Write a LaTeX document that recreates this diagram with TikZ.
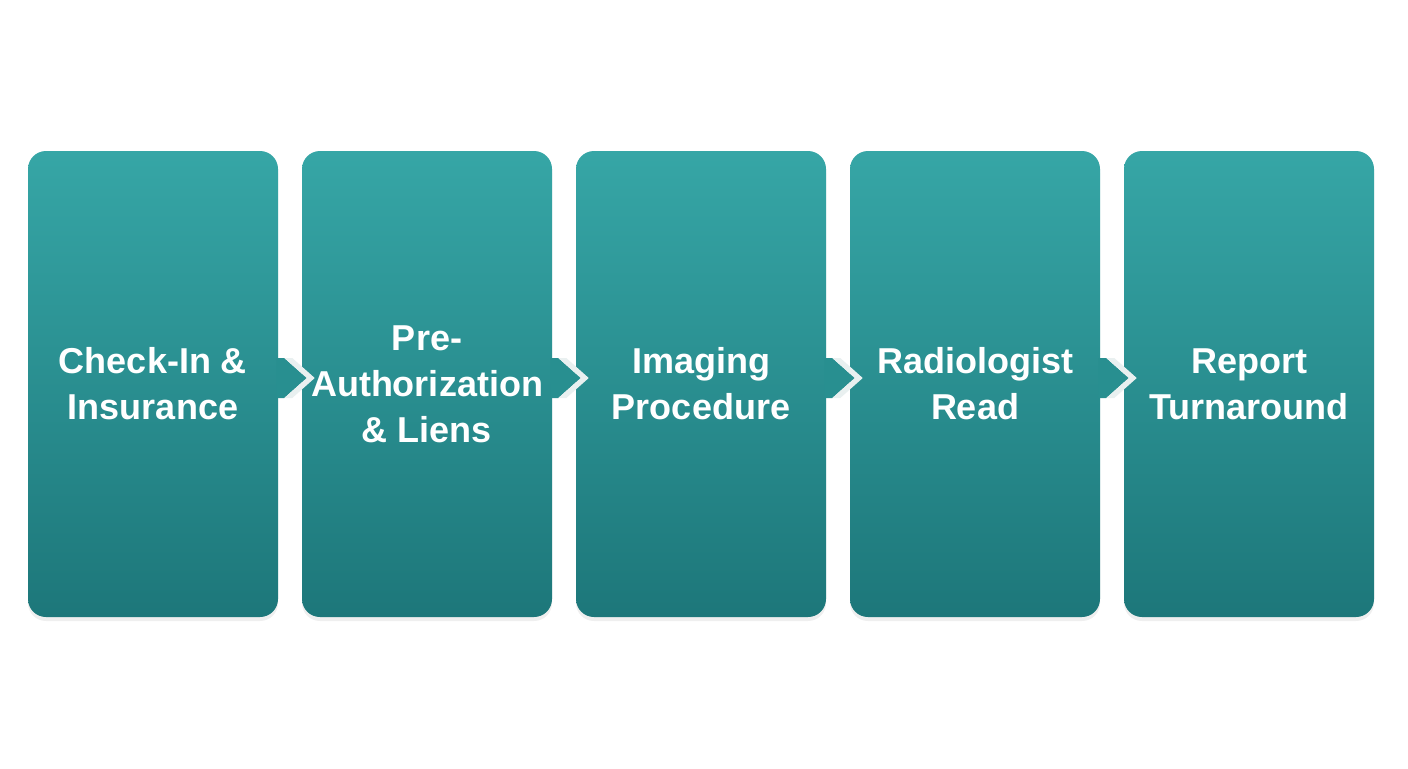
\documentclass[tikz,border=0pt]{standalone}
\usepackage{fontspec}
\setmainfont{Liberation Sans}
\usetikzlibrary{calc,shadows}
\definecolor{tealtop}{RGB}{54,166,166}
\definecolor{tealbot}{RGB}{29,119,122}
\definecolor{tealmid}{RGB}{40,143,144}
\definecolor{chev}{RGB}{233,240,240}
\begin{document}
\begin{tikzpicture}[x=0.75pt,y=-0.75pt,
  stepbox/.style={rectangle, rounded corners=13.5pt, minimum width=187.5pt,
    minimum height=349.5pt, inner sep=0pt, top color=tealtop, bottom color=tealbot,
    text=white, align=center, font=\bfseries\fontsize{27}{34.5}\selectfont,
    drop shadow={opacity=0.12, shadow xshift=0pt, shadow yshift=-3pt}},
  stemfill/.style={fill=tealmid, draw=none},
  chevfill/.style={fill=chev, draw=none}]
\useasboundingbox (0,0) rectangle (1408,768);
\fill[white] (0,0) rectangle (1408,768);
\node[stepbox] (b1) at (153,384) {Check-In \&\\Insurance};
\node[stepbox] (b2) at (427,384) {Pre-\\Authorization\\\& Liens};
\node[stepbox] (b3) at (701,384) {Imaging\\Procedure};
\node[stepbox] (b4) at (975,384) {Radiologist\\Read};
\node[stepbox] (b5) at (1249,384) {Report\\Turnaround};
\foreach \a/\b in {b1/b2,b2/b3,b3/b4,b4/b5}{
  \fill[stemfill] ($(\a.east)+(-2,-26)$) -- ($(\a.east)+(6,-26)$) -- ($(\b.west)+(5,-6)$)
    -- ($(\a.east)+(6,14)$) -- ($(\a.east)+(-2,14)$) -- cycle;
  \fill[chevfill] ($(\a.east)+(6,-26)$) -- ($(\a.east)+(14,-26)$) -- ($(\b.west)+(13,-6)$)
    -- ($(\a.east)+(14,14)$) -- ($(\a.east)+(6,14)$) -- ($(\b.west)+(5,-6)$) -- cycle;
}
\end{tikzpicture}
\end{document}
